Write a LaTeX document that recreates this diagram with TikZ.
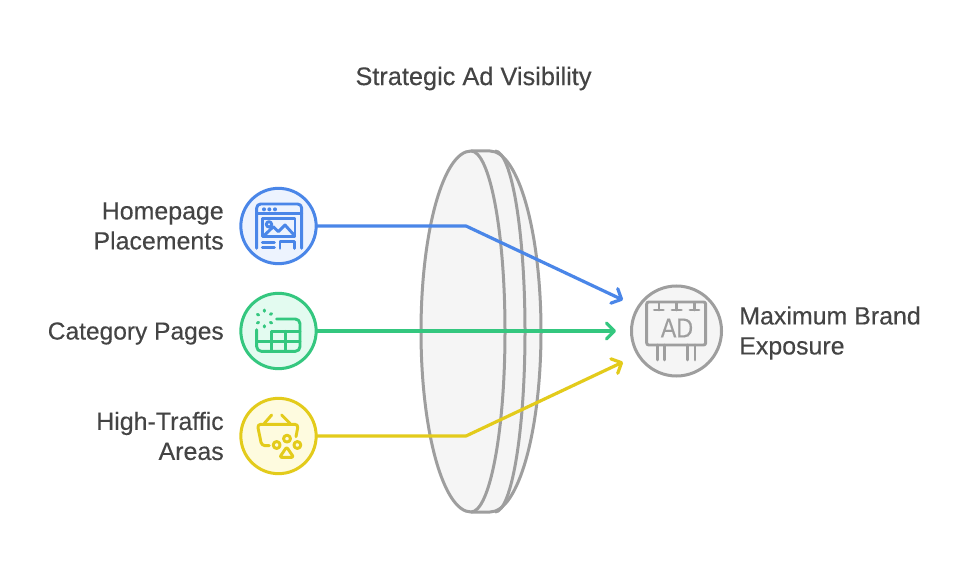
\documentclass[tikz,border=0pt]{standalone}
\usepackage{fontspec}
\setmainfont[FakeBold=0.25]{Liberation Sans}
\usetikzlibrary{arrows.meta}
\definecolor{cblue}{HTML}{4A86E8}
\definecolor{fblue}{HTML}{EDF3FE}
\definecolor{cgreen}{HTML}{34C77F}
\definecolor{fgreen}{HTML}{E3FBF0}
\definecolor{cyellow}{HTML}{E3CB1B}
\definecolor{fyellow}{HTML}{FEFBDF}
\definecolor{cgray}{HTML}{9E9E9E}
\definecolor{fgray}{HTML}{F5F5F5}
\definecolor{ctext}{HTML}{444444}
\tikzset{
  x=0.75pt,y=-0.75pt,
  iconring/.style={circle,draw=#1,line width=2.25pt,minimum size=56.5pt,inner sep=0pt,outer sep=0pt},
  lens/.style={draw=cgray,line width=2.25pt,line join=round},
  link/.style={draw=#1,line width=2.4pt,line join=round},
  tipped/.style={-{Straight Barb[length=6pt,width=12pt,round,line width=2.4pt]}},
  glyph/.style={draw=#1,line width=2.2pt,line cap=round,line join=round},
  iconunits/.style={x=0.25pt,y=-0.25pt},
  lbl/.style={text=ctext,font=\fontsize{18.7pt}{22.5pt}\selectfont,inner sep=0pt},
}
\begin{document}
\begin{tikzpicture}
\useasboundingbox[fill=white] (0,0) rectangle (963,573);
% lens
\path[lens,fill=fgray] (471,151) .. controls (443.4,151) and (421,231.8) .. (421,331.5)
  .. controls (421,431.2) and (443.4,512) .. (471,512) -- (490,512)
  .. controls (518.2,512) and (541,431.2) .. (541,331.5)
  .. controls (541,231.8) and (518.2,151) .. (490,151) -- cycle;
\path[lens] (495,151) .. controls (511.6,151) and (525,231.8) .. (525,331.5)
  .. controls (525,431.2) and (511.6,512) .. (495,512);
\path[lens] (471,151) .. controls (489.8,151) and (505,231.8) .. (505,331.5)
  .. controls (505,431.2) and (489.8,512) .. (471,512);
% nodes
\node[iconring=cblue,fill=fblue] (home) at (278.5,226) {};
\node[iconring=cgreen,fill=fgreen] (cat) at (278.5,331) {};
\node[iconring=cyellow,fill=fyellow] (traffic) at (278.5,436) {};
\node[circle,draw=cgray,fill=fgray,line width=2.25pt,minimum size=67.5pt,inner sep=0pt,outer sep=0pt] (brand) at (676.5,331) {};
\coordinate (bendA) at (466,226);
\coordinate (bendC) at (466,436);
\coordinate (endA) at (623,300);
\coordinate (endB) at (616,331);
\coordinate (endC) at (623,362);
% connectors
\draw[link=cblue,tipped] (home.east) -- (bendA) -- (endA);
\draw[link=cgreen,tipped] (cat.east) -- (endB);
\draw[link=cyellow,tipped] (traffic.east) -- (bendC) -- (endC);
% labels
\node[lbl,font=\fontsize{19pt}{22.5pt}\selectfont] (title) at (473.5,78.5) {Strategic Ad Visibility};
\node[lbl,anchor=east,align=right] (homelbl) at (224,226) {Homepage\\Placements};
\node[lbl,anchor=east,font=\fontsize{18.4pt}{22.5pt}\selectfont] (catlbl) at (224,333.5) {Category Pages};
\node[lbl,anchor=east,align=right] (traflbl) at (224,436) {High-Traffic\\Areas};
\node[lbl,anchor=west,align=left] (brandlbl) at (739,333) {Maximum Brand\\Exposure};
% homepage icon
\begin{scope}[shift={(235,180)},iconunits]
\draw[glyph=cblue,rounded corners=3pt] (65,205) -- (65,72) -- (200,72) -- (200,205);
\draw[glyph=cblue] (65,100) -- (200,100);
\fill[cblue] (87,88) circle[radius=1.5pt] (103,88) circle[radius=1.5pt] (120,88) circle[radius=1.5pt];
\draw[glyph=cblue] (82,115) rectangle (180,170);
\draw[glyph=cblue] (86,168) -- (115,140) -- (130,155) -- (150,135) -- (178,166);
\draw[glyph=cblue] (102,133) circle[radius=2pt];
\draw[glyph=cblue] (82,188) -- (118,188) (82,203) -- (118,203);
\draw[glyph=cblue] (135,205) -- (135,185) -- (178,185) -- (178,205);
\end{scope}
% category icon
\begin{scope}[shift={(235,288)},iconunits]
\draw[glyph=cgreen,rounded corners=3.5pt] (125,93) -- (195,93) -- (195,190) -- (65,190) -- (65,125);
\draw[glyph=cgreen] (110,130) -- (195,130) (65,160) -- (195,160) (110,130) -- (110,190) (152,130) -- (152,190);
\draw[glyph=cgreen] (88,66) -- (88,70) (88,113) -- (88,117) (67,79) -- (71,81) (106,79) -- (110,77) (67,105) -- (71,103) (106,103) -- (110,105);
\end{scope}
% traffic icon
\begin{scope}[shift={(235,395)},iconunits]
\draw[glyph=cyellow] (88,85) -- (110,60) (140,60) -- (165,85);
\draw[glyph=cyellow,rounded corners=2.5pt] (103,152) -- (80,152) -- (67,88) -- (190,88) -- (183,125);
\draw[glyph=cyellow] (125,150) circle[radius=2.6pt] (156,131) circle[radius=2.6pt] (187,150) circle[radius=2.6pt];
\draw[glyph=cyellow,rounded corners=1.5pt] (155,156) -- (176,187) -- (134,187) -- cycle;
\end{scope}
% billboard icon
\begin{scope}[shift={(600,280)},iconunits]
\draw[glyph=cgray,rounded corners=1.5pt] (140,66) rectangle (317,195);
\draw[glyph=cgray] (177,68) -- (177,90) (230,68) -- (230,90) (283,68) -- (283,90)
  (163,90) -- (190,90) (216,90) -- (244,90) (270,90) -- (297,90);
\draw[glyph=cgray] (172,195) -- (172,240) (194,195) -- (194,240) (262,195) -- (262,240) (285,195) -- (285,240);
\node[text=cgray,inner sep=0pt,xscale=0.85,font=\fontsize{20.5pt}{20.5pt}\selectfont] (adword) at (231,144) {AD};
\end{scope}
\end{tikzpicture}
\end{document}
